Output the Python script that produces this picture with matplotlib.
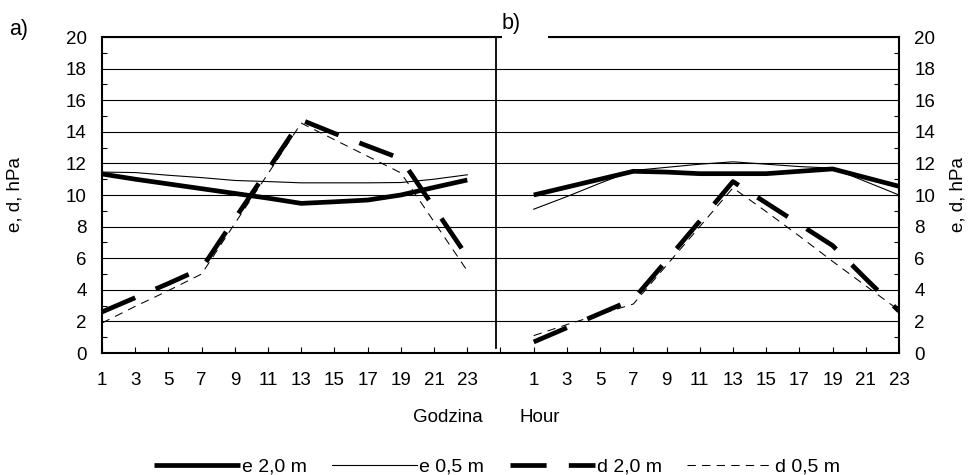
import matplotlib
matplotlib.use("Agg")
import matplotlib.pyplot as plt
import numpy as np
from matplotlib.patches import Rectangle

plt.rcParams['font.family'] = ['Liberation Sans', 'DejaVu Sans']
plt.rcParams['lines.scale_dashes'] = False

# ---- data ----
hours = [1, 3, 5, 7, 9, 11, 13, 15, 17, 19, 21, 23]
hour_labels = [str(h) for h in hours]

# panel a)
a_e20 = [11.33, 11.0, 10.7, 10.4, 10.1, 9.8, 9.47, 9.57, 9.68, 10.0, 10.48, 10.95]
a_e05 = [11.45, 11.42, 11.25, 11.1, 10.92, 10.85, 10.77, 10.77, 10.77, 10.79, 11.0, 11.28]
a_d20 = [2.6, 3.5, 4.4, 5.35, 8.5, 11.6, 14.75, 13.9, 13.1, 12.3, 9.2, 6.1]
a_d05 = [1.9, 2.95, 3.95, 5.0, 8.2, 11.35, 14.55, 13.5, 12.45, 11.4, 8.3, 5.2]

# panel b)
b_e20 = [10.0, 10.5, 11.0, 11.5, 11.45, 11.35, 11.35, 11.35, 11.5, 11.65, 11.1, 10.55]
b_e05 = [9.1, 9.9, 10.75, 11.55, 11.75, 11.95, 12.1, 11.95, 11.8, 11.7, 10.85, 10.0]
b_d20 = [0.7, 1.6, 2.5, 3.4, 5.85, 8.35, 10.85, 9.5, 8.15, 6.8, 4.7, 2.65]
b_d05 = [1.1, 1.8, 2.45, 3.1, 5.55, 8.0, 10.45, 8.95, 7.4, 5.8, 4.25, 2.7]

series_names = ['e 2,0 m', 'e 0,5 m', 'd 2,0 m', 'd 0,5 m']
B_OFFSET = 26          # category offset of panel b on the shared axis
DIVIDER_X = 24.7

styles = [
    dict(color='black', lw=3.4, solid_capstyle='butt'),
    dict(color='black', lw=0.8),
    dict(color='black', lw=3.4, dashes=(26, 16), dash_capstyle='butt'),
    dict(color='black', lw=0.75, dashes=(6, 4.5)),
]

FS = 13.5

fig = plt.figure(figsize=(9.7, 4.75), dpi=100)
W, H = 970, 475
ax = fig.add_axes([102 / W, 1 - 353 / H, (899 - 102) / W, (353 - 37) / H])

xa = np.array(hours)
xb = np.array(hours) + B_OFFSET

handles = []
for name, ya, yb, st in zip(series_names, [a_e20, a_e05, a_d20, a_d05],
                            [b_e20, b_e05, b_d20, b_d05], styles):
    h, = ax.plot(xa, ya, label=name, zorder=3, **st)
    ax.plot(xb, yb, zorder=3, **st)
    handles.append(h)

ax.set_xlim(1, 49)
ax.set_ylim(0, 20)

# x ticks
xt = list(xa) + [25] + list(xb)
xl = hour_labels + [''] + hour_labels
ax.set_xticks(xt)
ax.set_xticklabels(xl)
ax.set_yticks(np.arange(0, 21, 2))
ax.set_yticks(np.arange(1, 20, 2), minor=True)
ax.yaxis.grid(True, which='major', color='black', lw=0.8)
ax.set_axisbelow(True)

ax.tick_params(axis='x', direction='in', length=4, width=0.8, labelsize=FS, pad=14)
ax.tick_params(axis='y', which='both', direction='in', left=True, right=True,
               labelleft=True, labelright=True, labelsize=FS, pad=11, width=0.8)
ax.tick_params(axis='y', which='major', length=0)
ax.tick_params(axis='y', which='minor', length=3.5)

for s in ax.spines.values():
    s.set_linewidth(1.5)
    s.set_color('black')

ax.axvline(DIVIDER_X, ymin=0.016, ymax=1, color='black', lw=1.3, zorder=2)

# labels
fig.text(15 / W, 1 - 195 / H, 'e, d, hPa', rotation=90, ha='center', va='center', fontsize=FS)
fig.text(958 / W, 1 - 195 / H, 'e, d, hPa', rotation=90, ha='center', va='center', fontsize=FS)
fig.text(448 / W, 1 - 417 / H, 'Godzina', ha='center', va='center', fontsize=FS)
fig.text(540 / W, 1 - 417 / H, 'Hour', ha='center', va='center', fontsize=FS)
fig.text(9 / W, 1 - 30 / H, 'a)', ha='left', va='center', fontsize=15.5)

fig.patches.append(Rectangle((502 / W, 1 - 41 / H), 46 / W, 8 / H,
                             transform=fig.transFigure, facecolor='white',
                             edgecolor='none', zorder=5))
fig.text(502 / W, 1 - 24 / H, 'b)', ha='left', va='center', fontsize=15.5, zorder=6)

fig.legend(handles=handles, loc='center', bbox_to_anchor=(497 / W, 1 - 467 / H),
           ncol=4, frameon=False, fontsize=14, handlelength=4.4,
           handletextpad=0.1, columnspacing=1.3, borderpad=0)

fig.savefig('out.png', dpi=100)
